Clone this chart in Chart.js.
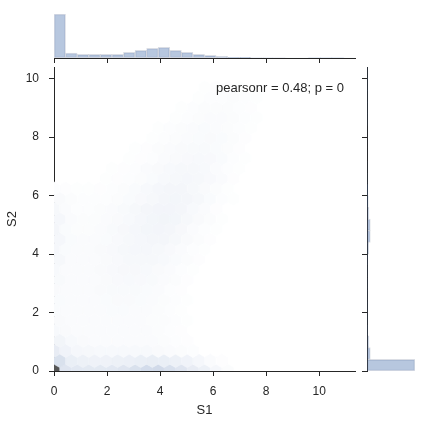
<!DOCTYPE html>
<html>
<head>
<meta charset="utf-8">
<script src="https://cdn.jsdelivr.net/npm/chart.js@4"></script>
<style>
  html, body { margin: 0; padding: 0; background: #fff; }
  #wrap { position: relative; width: 424px; height: 424px; overflow: hidden; }
  canvas { position: absolute; }
</style>
</head>
<body>
<div id="wrap">
  <canvas id="joint" width="424" height="424" style="left:0;top:0"></canvas>
  <canvas id="margX" width="424" height="66" style="left:0;top:0"></canvas>
  <canvas id="margY" width="69" height="320" style="left:355px;top:60px"></canvas>
</div>
<script>
// ---- data ----
const xLabel = 'S1';
const yLabel = 'S2';
const statText = 'pearsonr = 0.48; p = 0';
const xMax = 11.35;
const yMax = 10.4;
const xTicks = [0, 2, 4, 6, 8, 10];
const yTicks = [0, 2, 4, 6, 8, 10];

// marginal histograms, 26 bins each
const xHistCounts = [1310, 150, 110, 110, 110, 110, 170, 230, 290, 320, 230, 170, 110,
                     80, 50, 20, 20, 6, 3, 2, 1, 1, 0, 0, 0, 1];
const yHistCounts = [480, 33, 20, 5, 4, 4, 4, 4, 4, 5, 17, 33, 33, 20, 13, 7, 3, 2,
                     1, 1, 1, 0, 0, 0, 0, 0];

// hexbin counts: one array per hex row (bottom up), one entry per hex column
const hexGridX = 26;
const hexGridY = 15;
const hexCounts = [
  [900, 90, 80, 75, 75, 80, 90, 110, 130, 140, 115, 90, 60, 40, 20, 8],
  [110, 50, 40, 35, 35, 40, 45, 50, 55, 50, 40, 30, 20, 10, 4],
  [60, 30, 20, 18, 15, 15, 15, 15, 15, 12, 10, 8, 5],
  [25, 15, 12, 10, 10, 10, 10, 10, 10, 8, 6, 4],
  [15, 12, 10, 10, 10, 9, 9, 9, 9, 8, 6, 4],
  [12, 10, 9, 10, 10, 10, 10, 9, 8, 7, 5, 3],
  [11, 9, 9, 10, 10, 11, 11, 10, 9, 7, 5, 3],
  [11, 9, 9, 10, 11, 12, 12, 11, 10, 8, 6, 3],
  [12, 9, 9, 10, 12, 13, 13, 13, 11, 9, 6, 4],
  [13, 9, 9, 10, 12, 14, 15, 14, 13, 10, 7, 4],
  [15, 10, 9, 10, 12, 14, 16, 16, 15, 12, 9, 5, 3],
  [17, 10, 9, 10, 12, 14, 17, 18, 17, 15, 11, 7, 4],
  [19, 11, 9, 10, 12, 14, 17, 19, 20, 18, 14, 9, 5, 3],
  [20, 11, 9, 9, 11, 14, 17, 20, 22, 21, 17, 12, 7, 4],
  [21, 11, 8, 8, 10, 13, 16, 20, 23, 24, 21, 16, 10, 5, 3],
  [20, 10, 7, 7, 9, 12, 15, 19, 23, 25, 23, 18, 12, 7, 3],
  [17, 9, 6, 6, 8, 10, 13, 17, 21, 24, 24, 21, 15, 9, 4],
  [12, 7, 5, 5, 6, 8, 11, 14, 18, 22, 23, 21, 17, 11, 5, 3],
  [6, 4, 3, 3, 4, 6, 8, 11, 15, 19, 21, 21, 18, 12, 7, 3],
  [0, 0, 0, 0, 3, 4, 6, 8, 11, 15, 18, 19, 18, 14, 9, 4],
  [0, 0, 0, 0, 0, 3, 4, 6, 9, 12, 15, 17, 17, 15, 10, 5, 3],
  [0, 0, 0, 0, 0, 0, 3, 4, 6, 9, 12, 14, 15, 14, 11, 6, 3],
  [0, 0, 0, 0, 0, 0, 0, 3, 4, 7, 9, 12, 13, 13, 11, 7, 4],
  [0, 0, 0, 0, 0, 0, 0, 0, 3, 5, 7, 9, 11, 12, 11, 8, 4],
  [0, 0, 0, 0, 0, 0, 0, 0, 0, 3, 5, 7, 9, 11, 10, 8, 5, 3],
  [0, 0, 0, 0, 0, 0, 0, 0, 0, 0, 3, 5, 7, 9, 9, 8, 5, 3],
  [0, 0, 0, 0, 0, 0, 0, 0, 0, 0, 0, 3, 5, 7, 8, 8, 6, 4],
  [0, 0, 0, 0, 0, 0, 0, 0, 0, 0, 0, 0, 3, 5, 6, 7, 5, 3],
  [0, 0, 0, 0, 0, 0, 0, 0, 0, 0, 0, 0, 0, 3, 4, 4, 3]
];

// ---- styling ----
const ink = '#262626';
const fontFamily = "'Liberation Sans', Arial, sans-serif";
const histFill = 'rgba(76, 114, 176, 0.4)';
const histEdge = 'rgba(90, 105, 135, 0.22)';
const cmapStops = [[0, [255, 255, 255]], [0.03, [241, 244, 249]], [0.15, [210, 219, 234]], [1, [85, 85, 85]]];

function hexColor(t) {
  for (let i = 1; i < cmapStops.length; i++) {
    const [t1, c1] = cmapStops[i];
    const [t0, c0] = cmapStops[i - 1];
    if (t <= t1) {
      const f = (t - t0) / (t1 - t0);
      const c = c0.map((v, k) => Math.round(v + (c1[k] - v) * f));
      return `rgb(${c[0]},${c[1]},${c[2]})`;
    }
  }
  return 'rgb(85,85,85)';
}

const sx = xMax / hexGridX;
const sy = yMax / hexGridY;
const hexPoints = [];
hexCounts.forEach((row, r) => {
  row.forEach((n, c) => {
    if (n > 0) hexPoints.push({ x: (c + (r % 2) * 0.5) * sx, y: r * sy / 2, n: n });
  });
});
const hexMax = Math.max(...hexPoints.map(p => p.n));
const hexShape = [[0.5, -0.5], [0.5, 0.5], [0, 1], [-0.5, 0.5], [-0.5, -0.5], [0, -1]];

// draws each hex cell of the scatter dataset through the chart's scales
const hexPlugin = {
  id: 'hexcells',
  beforeDatasetsDraw(chart) {
    const { ctx, chartArea: a, scales: { x, y } } = chart;
    ctx.save();
    ctx.beginPath();
    ctx.rect(a.left, a.top, a.right - a.left, a.bottom - a.top);
    ctx.clip();
    chart.data.datasets[0].data.forEach(p => {
      const col = hexColor(p.n / hexMax);
      ctx.beginPath();
      hexShape.forEach(([dx, dy], i) => {
        const px = x.getPixelForValue(p.x + dx * sx);
        const py = y.getPixelForValue(p.y + dy * sy / 3);
        if (i === 0) ctx.moveTo(px, py); else ctx.lineTo(px, py);
      });
      ctx.closePath();
      ctx.fillStyle = col;
      ctx.strokeStyle = col;
      ctx.lineWidth = 0.5;
      ctx.fill();
      ctx.stroke();
    });
    ctx.restore();
  }
};

const statPlugin = {
  id: 'stattext',
  afterDraw(chart) {
    const { ctx, chartArea: a } = chart;
    ctx.save();
    ctx.font = `13px ${fontFamily}`;
    ctx.fillStyle = ink;
    ctx.textAlign = 'right';
    ctx.textBaseline = 'alphabetic';
    ctx.fillText(statText, a.right - 11, a.top + 25);
    ctx.restore();
  }
};

const fixedTicks = list => scale => { scale.ticks = list.map(v => ({ value: v })); };

Chart.defaults.font.family = fontFamily;
Chart.defaults.color = ink;
Chart.defaults.animation = false;

// ---- joint hexbin plot ----
new Chart(document.getElementById('joint'), {
  type: 'scatter',
  data: { datasets: [{ data: hexPoints, pointRadius: 0, pointHoverRadius: 0 }] },
  plugins: [hexPlugin, statPlugin],
  options: {
    responsive: false,
    events: [],
    layout: { padding: { left: 0, right: 69, top: 67, bottom: 0 } },
    plugins: { legend: { display: false }, tooltip: { enabled: false } },
    scales: {
      x: {
        type: 'linear', min: 0, max: xMax,
        afterBuildTicks: fixedTicks(xTicks),
        afterFit: s => { s.height = 53; },
        border: { display: true, color: ink, width: 1 },
        grid: { drawOnChartArea: false, drawTicks: true, tickLength: 5, color: ink },
        ticks: { font: { size: 12 }, color: ink, padding: 8, maxRotation: 0 },
        title: { display: true, text: xLabel, font: { size: 13 }, color: ink, padding: { top: 0, bottom: 6 } }
      },
      y: {
        type: 'linear', min: 0, max: yMax,
        afterBuildTicks: fixedTicks(yTicks),
        afterFit: s => { s.width = 54; },
        border: { display: true, color: ink, width: 1 },
        grid: { drawOnChartArea: false, drawTicks: true, tickLength: 5, color: ink },
        ticks: { font: { size: 12 }, color: ink, padding: 10 },
        title: { display: true, text: yLabel, font: { size: 13 }, color: ink, padding: { top: 5, bottom: 0 } }
      }
    }
  }
});

// ---- top marginal histogram ----
const xBin = xMax / xHistCounts.length;
new Chart(document.getElementById('margX'), {
  type: 'bar',
  data: {
    datasets: [{
      data: xHistCounts.map((n, i) => ({ x: (i + 0.5) * xBin, y: n })),
      backgroundColor: histFill,
      borderColor: histEdge,
      borderWidth: ctx => (ctx.raw && ctx.raw.y > 0 ? 1 : 0),
      borderSkipped: false,
      barPercentage: 1,
      categoryPercentage: 1
    }]
  },
  options: {
    responsive: false,
    events: [],
    layout: { padding: { left: 54, right: 69, top: 14, bottom: 0 } },
    plugins: { legend: { display: false }, tooltip: { enabled: false } },
    scales: {
      x: {
        type: 'linear', min: 0, max: xMax, offset: false,
        afterBuildTicks: fixedTicks(xTicks),
        afterFit: s => { s.height = 8; },
        border: { display: true, color: ink, width: 1 },
        grid: { offset: false, drawOnChartArea: false, drawTicks: true, tickLength: 5, color: ink },
        ticks: { display: false }
      },
      y: { type: 'linear', min: 0, max: Math.max(...xHistCounts), display: false }
    }
  }
});

// ---- right marginal histogram ----
const yBin = yMax / yHistCounts.length;
new Chart(document.getElementById('margY'), {
  type: 'bar',
  data: {
    datasets: [{
      data: yHistCounts.map((n, i) => ({ x: n, y: (i + 0.5) * yBin })),
      backgroundColor: histFill,
      borderColor: histEdge,
      borderWidth: ctx => (ctx.raw && ctx.raw.x > 0 ? 1 : 0),
      borderSkipped: false,
      barPercentage: 1,
      categoryPercentage: 1
    }]
  },
  options: {
    indexAxis: 'y',
    responsive: false,
    events: [],
    layout: { padding: { left: 0, right: 9, top: 7, bottom: 9 } },
    plugins: { legend: { display: false }, tooltip: { enabled: false } },
    scales: {
      y: {
        type: 'linear', min: 0, max: yMax, offset: false, position: 'left',
        afterBuildTicks: fixedTicks(yTicks),
        afterFit: s => { s.width = 12; },
        border: { display: true, color: ink, width: 1 },
        grid: { offset: false, drawOnChartArea: false, drawTicks: true, tickLength: 5, color: ink },
        ticks: { display: false }
      },
      x: { type: 'linear', min: 0, max: Math.max(...yHistCounts), display: false }
    }
  }
});
</script>
</body>
</html>
